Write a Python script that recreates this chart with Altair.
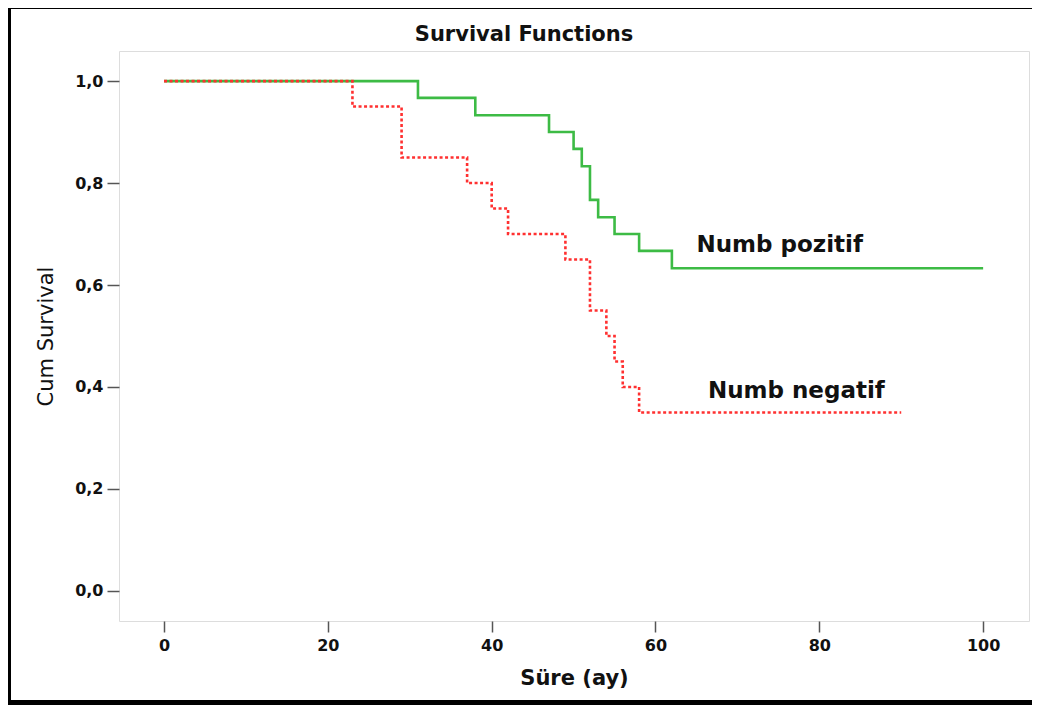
import altair as alt
import pandas as pd

# ---- data ----
title_text = "Survival Functions"
x_title = "Süre (ay)"
y_title = "Cum Survival"

pos_time = [0, 31, 38, 47, 50, 51, 52, 53, 55, 58, 62, 100]
pos_surv = [1.0, 0.967, 0.933, 0.9, 0.867, 0.833, 0.767, 0.733, 0.7, 0.667, 0.633, 0.633]

neg_time = [0, 23, 29, 37, 40, 42, 49, 52, 54, 55, 56, 58, 90]
neg_surv = [1.0, 0.95, 0.85, 0.8, 0.75, 0.7, 0.65, 0.55, 0.5, 0.45, 0.4, 0.35, 0.35]

label_text = ["Numb pozitif", "Numb negatif"]
label_x = [65.0, 66.4]
label_y = [0.678, 0.392]

x_ticks = [0, 20, 40, 60, 80, 100]
y_ticks = [0.0, 0.2, 0.4, 0.6, 0.8, 1.0]

# ---- layout ----
W, H = 910, 570
PAD_L, PAD_T, PAD_R, PAD_B = 111, 43, 3, 84

pos_df = pd.DataFrame({"t": pos_time, "s": pos_surv})
neg_df = pd.DataFrame({"t": neg_time, "s": neg_surv})
lab_df = pd.DataFrame({"txt": label_text, "t": label_x, "s": label_y})

xs = alt.Scale(domain=[-5.5, 105.6], nice=False, zero=False)
ys = alt.Scale(domain=[-0.059, 1.059], nice=False, zero=False)

x_axis = alt.Axis(
    values=x_ticks, title=x_title, grid=False, domain=False,
    tickSize=11, tickWidth=1.5, tickColor="#555555",
    labelFont="DejaVu Sans", labelFontWeight="bold", labelFontSize=16,
    labelColor="#111111", labelPadding=5,
    titleFont="DejaVu Sans", titleFontWeight="bold", titleFontSize=21,
    titleColor="#111111", titlePadding=14,
)
y_axis = alt.Axis(
    values=y_ticks, title=y_title, grid=False, domain=False,
    tickSize=12, tickWidth=1.5, tickColor="#555555",
    labelExpr="replace(format(datum.value, '.1f'), '.', ',')",
    labelFont="DejaVu Sans", labelFontWeight="bold", labelFontSize=16,
    labelColor="#111111", labelPadding=4,
    titleFont="DejaVu Sans", titleFontWeight="normal", titleFontSize=21,
    titleColor="#111111", titlePadding=18,
)

green = alt.Chart(pos_df).mark_line(
    interpolate="step-after", color="#3dbb45", strokeWidth=2.6
).encode(
    x=alt.X("t:Q", scale=xs, axis=x_axis),
    y=alt.Y("s:Q", scale=ys, axis=y_axis),
)

red = alt.Chart(neg_df).mark_line(
    interpolate="step-after", color="#ff3030", strokeWidth=2.6, strokeDash=[3, 2.5]
).encode(
    x=alt.X("t:Q", scale=xs),
    y=alt.Y("s:Q", scale=ys),
)

labels = alt.Chart(lab_df).mark_text(
    align="left", baseline="middle", font="DejaVu Sans", fontWeight="bold",
    fontSize=23, color="#111111"
).encode(
    x=alt.X("t:Q", scale=xs),
    y=alt.Y("s:Q", scale=ys),
    text="txt:N",
)

one = pd.DataFrame({"k": [0]})
# outer screenshot frame (decoration)
frame_left = alt.Chart(one).mark_rect(color="black").encode(
    x=alt.value(-PAD_L), x2=alt.value(-PAD_L + 3),
    y=alt.value(-PAD_T), y2=alt.value(H + PAD_B),
)
frame_top = alt.Chart(one).mark_rect(color="black").encode(
    x=alt.value(-PAD_L), x2=alt.value(W + PAD_R),
    y=alt.value(-PAD_T), y2=alt.value(-PAD_T + 1),
)
frame_bottom = alt.Chart(one).mark_rect(color="black").encode(
    x=alt.value(-PAD_L), x2=alt.value(W + PAD_R),
    y=alt.value(H + PAD_B - 5), y2=alt.value(H + PAD_B),
)

chart = alt.layer(
    green, red, labels, frame_left, frame_top, frame_bottom
).properties(
    width=W, height=H,
    autosize=alt.AutoSizeParams(type="none"),
    padding={"left": PAD_L, "top": PAD_T, "right": PAD_R, "bottom": PAD_B},
    title=alt.TitleParams(
        text=title_text, font="DejaVu Sans", fontWeight="bold", fontSize=21,
        color="#111111", anchor="middle", dx=-50, offset=-37,
    ),
).configure_view(
    stroke="#666666", strokeWidth=1.5
).configure(background="white")

chart.save("out.html", embed_options={"renderer": "svg", "actions": False})
